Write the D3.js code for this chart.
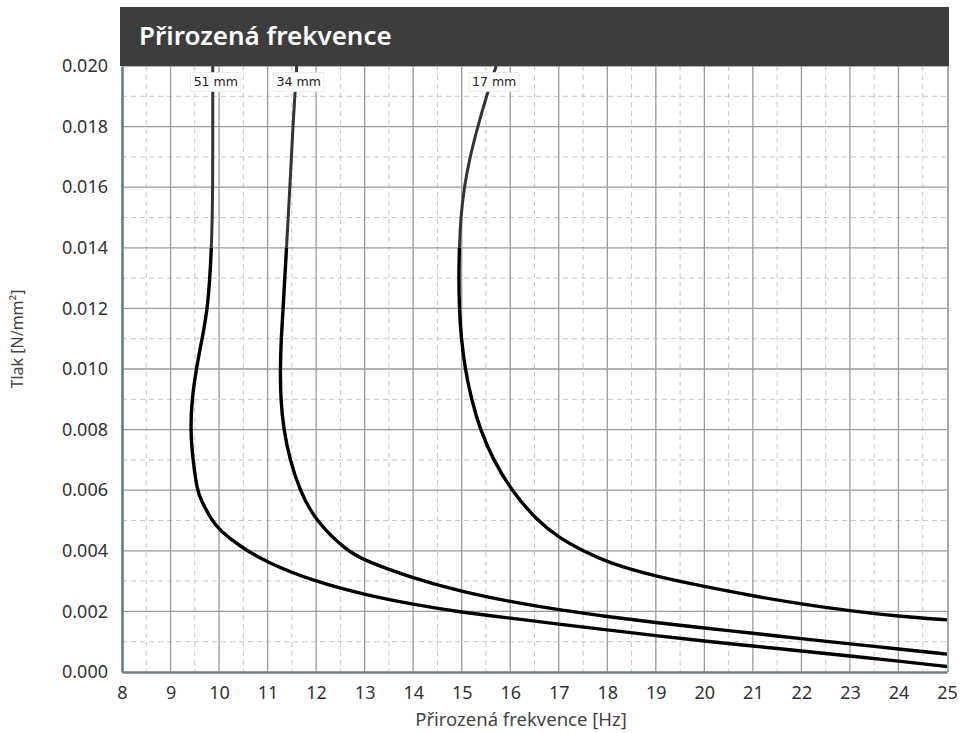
<!DOCTYPE html>
<html>
<head>
<meta charset="utf-8">
<script src="https://cdn.jsdelivr.net/npm/d3@7"></script>
<style>
  body { margin: 0; background: #fff; }
  svg { display: block; }
</style>
</head>
<body>
<svg id="chart" width="962" height="733"></svg>
<script>
// Natural frequency vs. pressure for three mat thicknesses
const titleText = "Přirozená frekvence";
const xTitle = "Přirozená frekvence [Hz]";
const yTitle = "Tlak [N/mm²]";

const freqTicks = [8, 9, 10, 11, 12, 13, 14, 15, 16, 17, 18, 19, 20, 21, 22, 23, 24, 25];
const pressureTicks = [0.000, 0.002, 0.004, 0.006, 0.008, 0.010, 0.012, 0.014, 0.016, 0.018, 0.020];

const seriesNames = ["51 mm", "34 mm", "17 mm"];

// [frequency Hz, pressure N/mm²], ordered from top of the chart downwards
const curve51 = [
  [9.87, 0.0200], [9.87, 0.0180], [9.87, 0.0160], [9.85, 0.0140], [9.77, 0.0120],
  [9.65, 0.0110], [9.53, 0.0100], [9.44, 0.0090], [9.41, 0.0080], [9.46, 0.0070],
  [9.55, 0.0060], [9.62, 0.0057], [9.85, 0.0050], [10.0, 0.0047], [10.43, 0.00414],
  [11.02, 0.00359], [11.95, 0.00300], [13.0, 0.00255], [14.0, 0.00223], [15.0, 0.00197],
  [16.0, 0.00178], [17.0, 0.00158], [18.0, 0.00139], [19.0, 0.00120], [20.0, 0.00102],
  [21.0, 0.00086], [22.0, 0.00069], [23.0, 0.00053], [24.0, 0.00036], [25.0, 0.00018]
];
const curve34 = [
  [11.60, 0.0200], [11.52, 0.0180], [11.46, 0.0160], [11.39, 0.0140], [11.32, 0.0120],
  [11.28, 0.0110], [11.26, 0.0100], [11.27, 0.0090], [11.33, 0.0080], [11.46, 0.0070],
  [11.66, 0.0060], [11.98, 0.0050], [12.63, 0.0040], [13.0, 0.00368], [14.0, 0.00309],
  [15.0, 0.00265], [16.0, 0.00232], [17.0, 0.00205], [18.0, 0.00183], [19.0, 0.00163],
  [20.0, 0.00145], [21.0, 0.00128], [22.0, 0.00110], [23.0, 0.00093], [24.0, 0.00076],
  [25.0, 0.00059]
];
const curve17 = [
  [15.71, 0.0200], [15.51, 0.0190], [15.33, 0.0180], [15.17, 0.0170], [15.05, 0.0160],
  [14.98, 0.0150], [14.95, 0.0140], [14.94, 0.0130], [14.95, 0.0120], [14.99, 0.0110],
  [15.07, 0.0100], [15.20, 0.0090], [15.38, 0.0080], [15.65, 0.0070], [16.02, 0.0060],
  [16.55, 0.0050], [17.03, 0.0044], [17.50, 0.0040], [18.02, 0.0036], [19.0, 0.00315],
  [20.0, 0.00282], [21.0, 0.00251], [22.0, 0.00224], [23.0, 0.00202], [24.0, 0.00184],
  [25.0, 0.00172]
];
const curves = [curve51, curve34, curve17];
// above this pressure the curves are drawn lighter and thinner
const measuredLimit = 0.014;

const svg = d3.select("#chart");
const margin = { left: 122, right: 15, top: 66, bottom: 61 };
const W = 962, H = 733;

const x = d3.scaleLinear().domain([8, 25]).range([margin.left, W - margin.right]);
const y = d3.scaleLinear().domain([0, 0.020]).range([H - margin.bottom, margin.top]);

const x0 = x.range()[0], x1 = x.range()[1];
const y0 = y.range()[0], y1 = y.range()[1];

const minorX = d3.range(8.5, 25, 1);
const minorY = d3.range(0.001, 0.020, 0.002);

const defs = svg.append("defs");
defs.append("clipPath").attr("id", "plotClip")
  .append("rect").attr("x", x0).attr("y", y1).attr("width", x1 - x0).attr("height", y0 - y1);
defs.append("clipPath").attr("id", "lowClip")
  .append("rect").attr("x", x0).attr("y", y(measuredLimit)).attr("width", x1 - x0).attr("height", y0 - y(measuredLimit));
defs.append("clipPath").attr("id", "highClip")
  .append("rect").attr("x", x0).attr("y", y1).attr("width", x1 - x0).attr("height", y(measuredLimit) - y1);

// minor dashed grid
const grid = svg.append("g");
grid.selectAll(".mx").data(minorX).join("line")
  .attr("x1", d => x(d)).attr("x2", d => x(d)).attr("y1", y1).attr("y2", y0)
  .attr("stroke", "#c8c8c8").attr("stroke-width", 1).attr("stroke-dasharray", "5,4");
grid.selectAll(".my").data(minorY).join("line")
  .attr("x1", x0).attr("x2", x1).attr("y1", d => y(d)).attr("y2", d => y(d))
  .attr("stroke", "#c8c8c8").attr("stroke-width", 1).attr("stroke-dasharray", "5,4");

// major solid grid
grid.selectAll(".Mx").data(freqTicks.slice(1, -1)).join("line")
  .attr("x1", d => x(d)).attr("x2", d => x(d)).attr("y1", y1).attr("y2", y0)
  .attr("stroke", "#9a9a9a").attr("stroke-width", 1.3);
grid.selectAll(".My").data(pressureTicks.slice(1)).join("line")
  .attr("x1", x0).attr("x2", x1).attr("y1", d => y(d)).attr("y2", d => y(d))
  .attr("stroke", "#9a9a9a").attr("stroke-width", 1.3);

// frame
svg.append("line").attr("x1", x1 + 1).attr("x2", x1 + 1).attr("y1", y1).attr("y2", y0)
  .attr("stroke", "#7d8f9b").attr("stroke-width", 1.5);

// axes
const xAxis = d3.axisBottom(x).tickValues(freqTicks).tickFormat(d3.format("d")).tickSize(0).tickPadding(14);
const yAxis = d3.axisLeft(y).tickValues(pressureTicks).tickFormat(d3.format(".3f")).tickSize(0).tickPadding(14);

const gx = svg.append("g").attr("transform", `translate(0,${y0})`).call(xAxis);
const gy = svg.append("g").attr("transform", `translate(${x0},0)`).call(yAxis);
[gx, gy].forEach(g => {
  g.select(".domain").attr("stroke", "#687d8a").attr("stroke-width", 2.6);
  g.selectAll("text").attr("font-family", "'Noto Sans', sans-serif").attr("font-size", 18)
    .attr("fill", "#333");
});

// curves
const line = d3.line().x(d => x(d[0])).y(d => y(d[1])).curve(d3.curveBasis);
const plot = svg.append("g").attr("clip-path", "url(#plotClip)");
curves.forEach(c => {
  plot.append("path").attr("d", line(c)).attr("clip-path", "url(#lowClip)")
    .attr("fill", "none").attr("stroke", "#000").attr("stroke-width", 3.4);
  plot.append("path").attr("d", line(c)).attr("clip-path", "url(#highClip)")
    .attr("fill", "none").attr("stroke", "#333").attr("stroke-width", 3);
});

// series labels at the top end of each curve
const labels = svg.append("g");
curves.forEach((c, i) => {
  const cx = x(c[0][0]) + (i === 0 ? 3 : i === 2 ? -2 : 2);
  const g = labels.append("g").attr("transform", `translate(${cx},${y1 + 16})`);
  const t = g.append("text").text(seriesNames[i])
    .attr("text-anchor", "middle").attr("dy", "0.35em")
    .attr("font-family", "'DejaVu Sans', sans-serif").attr("font-size", 12.5).attr("fill", "#222");
  const bb = t.node().getBBox();
  g.insert("rect", "text")
    .attr("x", bb.x - 3).attr("y", bb.y - 2).attr("width", bb.width + 6).attr("height", bb.height + 4)
    .attr("fill", "#fff").attr("stroke", "#e6e6e6").attr("stroke-width", 0.8);
});

// title bar
svg.append("rect").attr("x", 120).attr("y", 7).attr("width", 829).attr("height", y1 - 7)
  .attr("fill", "#3d3d3d");
svg.append("text").attr("x", 139).attr("y", 45).text(titleText)
  .attr("font-family", "'Noto Sans', sans-serif").attr("font-weight", 600).attr("font-size", 26)
  .attr("fill", "#fff");

// axis titles
svg.append("text").attr("x", 521).attr("y", 726).attr("text-anchor", "middle").text(xTitle)
  .attr("font-family", "'Noto Sans', sans-serif").attr("font-size", 18.5).attr("fill", "#444");
svg.append("text").attr("transform", "translate(23,339) rotate(-90)").attr("text-anchor", "middle").text(yTitle)
  .attr("font-family", "'Noto Sans', sans-serif").attr("font-size", 16).attr("fill", "#444");
</script>
</body>
</html>
